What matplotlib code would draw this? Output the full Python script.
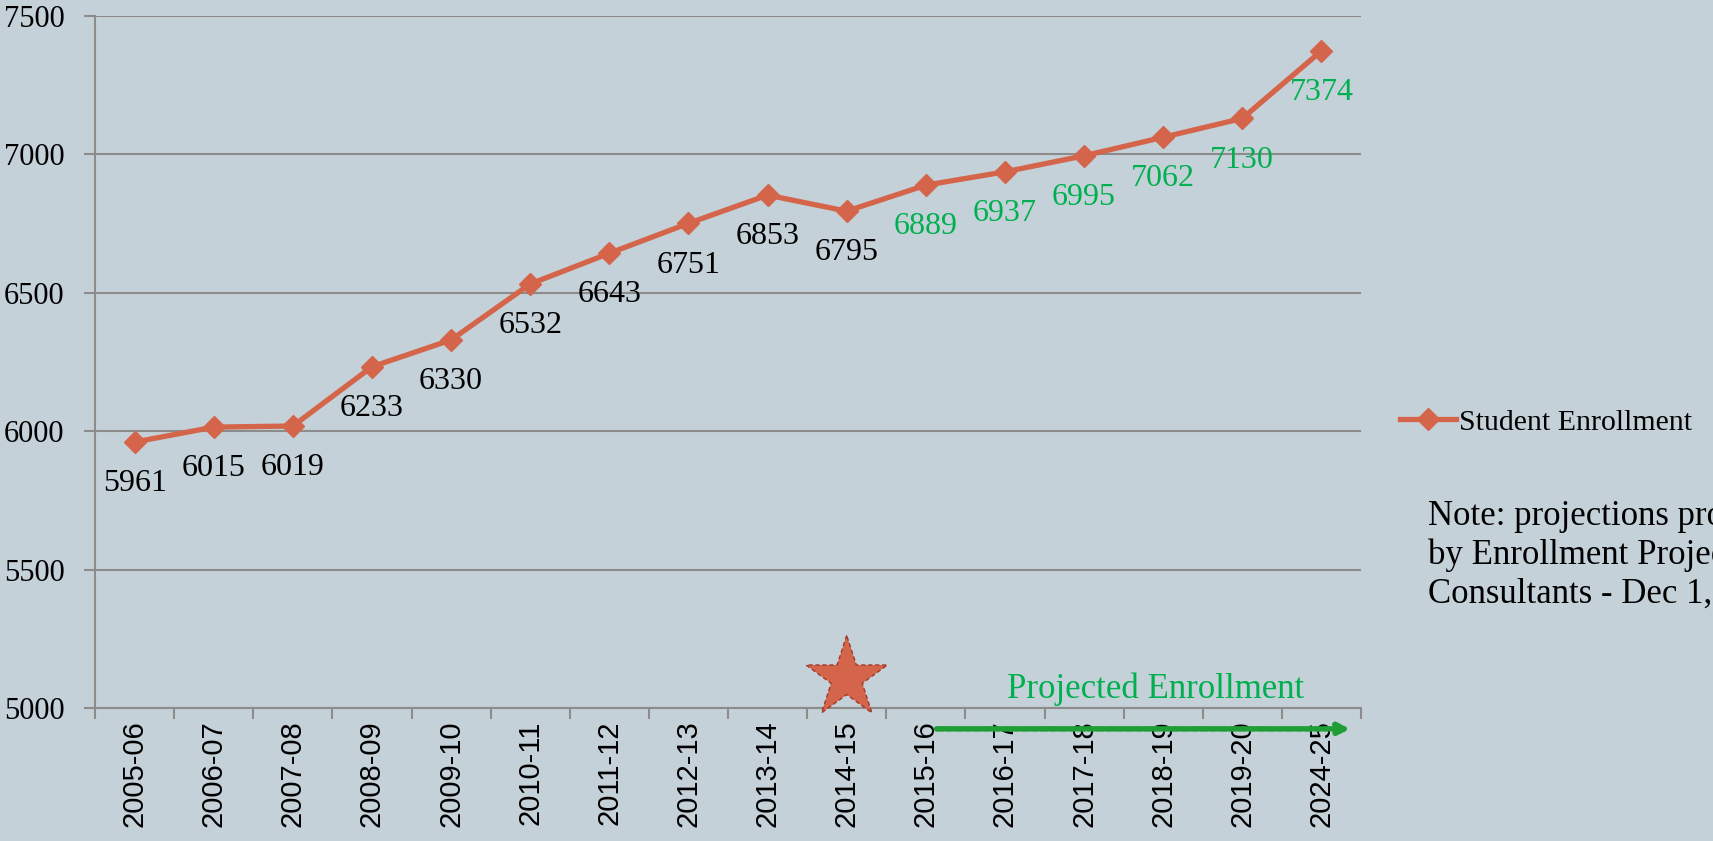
import matplotlib.pyplot as plt
import numpy as np

# data
years = ['2005-06', '2006-07', '2007-08', '2008-09', '2009-10', '2010-11',
         '2011-12', '2012-13', '2013-14', '2014-15', '2015-16', '2016-17',
         '2017-18', '2018-19', '2019-20', '2024-25']
enrollment = [5961, 6015, 6019, 6233, 6330, 6532, 6643, 6751, 6853, 6795,
              6889, 6937, 6995, 7062, 7130, 7374]
first_projected = '2015-16'

bg = '#C5D1D8'
line_col = '#D4644A'
green = '#00B050'
grid_col = '#8C8C8C'
serif = ['Liberation Serif', 'DejaVu Serif']

fig = plt.figure(figsize=(17.13, 8.41), dpi=100, facecolor=bg)
ax = fig.add_axes([0.0555, 0.158, 0.739, 0.823])
ax.set_facecolor(bg)

x = np.arange(len(years))
ax.plot(x, enrollment, color=line_col, lw=3.8, marker='D', markersize=11,
        label='Student Enrollment', zorder=3)

proj_idx = years.index(first_projected)
for i, v in enumerate(enrollment):
    c = green if i >= proj_idx else 'black'
    ax.annotate(str(v), (x[i], v), xytext=(0, -30), textcoords='offset points',
                ha='center', va='center', fontsize=23, color=c, family=serif)

ax.set_xlim(-0.5, len(years) - 0.5)
ax.set_ylim(5000, 7500)
ax.set_yticks(np.arange(5000, 7501, 500))
ax.yaxis.grid(True, color=grid_col, lw=1.5)
ax.set_axisbelow(True)

ax.set_xticks(x)
ax.set_xticklabels(years, rotation=90, fontsize=21, family=['Liberation Sans', 'DejaVu Sans'])
ax.tick_params(axis='x', length=0, pad=9)
ax.set_xticks(np.arange(-0.5, len(years)), minor=True)
ax.tick_params(axis='x', which='minor', length=8, width=1.5, color=grid_col)
ax.tick_params(axis='y', length=8, width=1.5, color=grid_col, pad=14)
for lab in ax.get_yticklabels():
    lab.set_family(serif)
    lab.set_fontsize(22)

for s in ['top', 'right']:
    ax.spines[s].set_visible(False)
for s in ['left', 'bottom']:
    ax.spines[s].set_color(grid_col)
    ax.spines[s].set_linewidth(1.5)

# star marker at 2014-15
ax.scatter([years.index('2014-15')], [5108], marker='*', s=3800, color=line_col,
           edgecolors='#9E3A2A', linewidths=1.0, linestyles=(0, (3, 2)),
           clip_on=False, zorder=4)

# projected enrollment arrow
ax.annotate('', xy=(15.4, -0.03), xytext=(10.1, -0.03),
            xycoords=('data', 'axes fraction'),
            arrowprops=dict(arrowstyle='-|>', color='#1E9E35', lw=4,
                            linestyle=(0, (1.2, 0.5)), mutation_scale=16))
ax.text(12.9, 5068, 'Projected Enrollment', color=green, fontsize=25,
        ha='center', va='center', family=serif)

fig.legend(loc='center left', bbox_to_anchor=(0.817, 0.498), frameon=False,
           borderpad=0, borderaxespad=0, handlelength=1.9, handletextpad=0.1,
           prop={'family': serif, 'size': 21.5})

fig.text(0.8336, 0.406, 'Note: projections provided\nby Enrollment Projection\nConsultants - Dec 1, 2015',
         fontsize=25, va='top', ha='left', linespacing=1.22, family=serif)

fig.savefig('out.png', dpi=100, facecolor=bg)
